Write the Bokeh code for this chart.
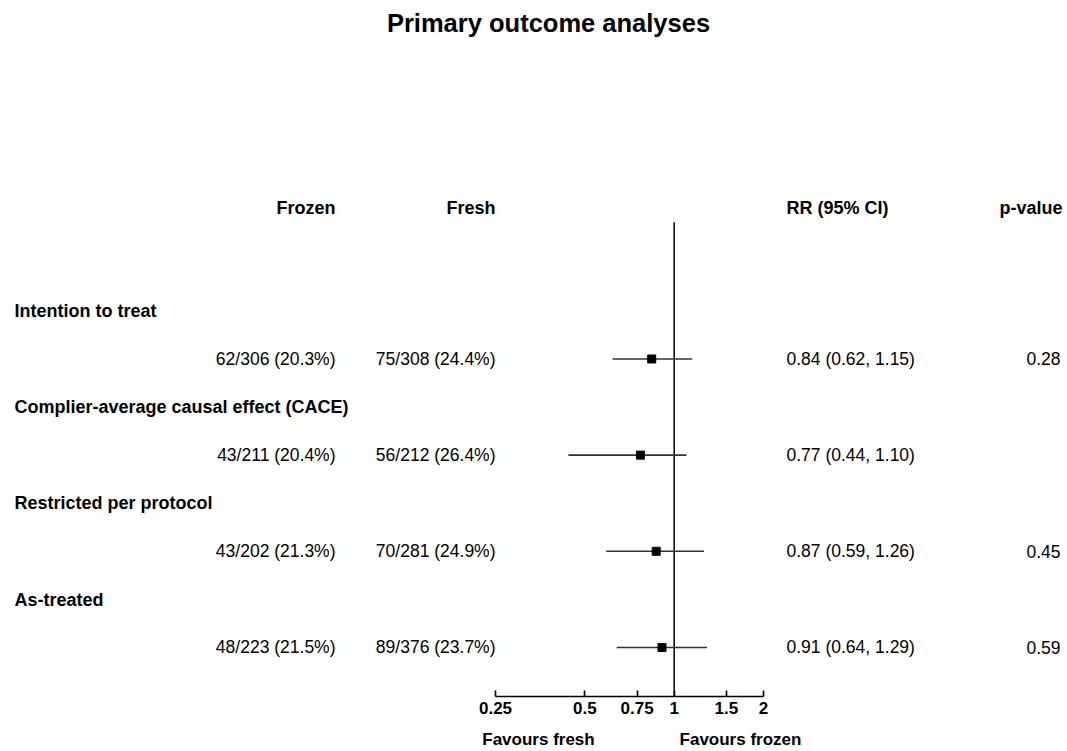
import math
from bokeh.plotting import figure
from bokeh.models import (Range1d, FixedTicker, NumeralTickFormatter, LinearAxis,
                          ColumnDataSource, LinearScale)
from bokeh.core.properties import value
from bokeh.embed import file_html
from bokeh.resources import INLINE

# ---------------- data ----------------
title = "Primary outcome analyses"
analyses = ["Intention to treat", "Complier-average causal effect (CACE)",
            "Restricted per protocol", "As-treated"]
frozen = ["62/306 (20.3%)", "43/211 (20.4%)", "43/202 (21.3%)", "48/223 (21.5%)"]
fresh = ["75/308 (24.4%)", "56/212 (26.4%)", "70/281 (24.9%)", "89/376 (23.7%)"]
rr = [0.84, 0.77, 0.87, 0.91]
ci_low = [0.62, 0.44, 0.59, 0.64]
ci_high = [1.15, 1.10, 1.26, 1.29]
pvals = ["0.28", "", "0.45", "0.59"]
headers = ["Frozen", "Fresh", "RR (95% CI)", "p-value"]
ticks = [0.25, 0.5, 0.75, 1, 1.5, 2]
favours = ["Favours fresh", "Favours frozen"]

# ---------------- layout ----------------
W, H = 1067, 751
FRAME_BOTTOM = 697
AX_L, AX_R = 495, 763          # pixel positions of 0.25 and 2
k = (AX_R - AX_L) / math.log(ticks[-1] / ticks[0])
x_start = ticks[0] * math.exp(-AX_L / k)
x_end = ticks[-1] * math.exp((W - AX_R) / k)

FONT = value("Liberation Sans")
FS_B = "18px"
FS_R = "17.5px"

p = figure(width=W, height=H, output_backend="svg", toolbar_location=None,
           x_axis_type="log", x_range=Range1d(x_start, x_end),
           y_range=Range1d(FRAME_BOTTOM, 0), y_axis_location=None,
           min_border_left=0, min_border_right=0, min_border_top=0,
           min_border_bottom=H - FRAME_BOTTOM)
p.extra_x_ranges = {"px": Range1d(0, W)}
p.extra_x_scales = {"px": LinearScale()}
p.outline_line_color = None
p.grid.visible = False
p.background_fill_color = "white"
p.border_fill_color = "white"

# row positions
label_y = [311 + 96.3 * i for i in range(len(analyses))]
data_y = [y + 48 for y in label_y]

# title
p.text(x=[548], y=[23], text=[title], x_range_name="px", text_align="center",
       text_baseline="middle", text_font=FONT, text_font_size="25.5px",
       text_font_style="bold", text_color="black")

# headers
hx = [335, 495, 786, 1062]
ha = ["right", "right", "left", "right"]
p.text(x="x", y="y", text="t", text_align="a",
       source=ColumnDataSource(dict(x=hx, y=[208] * 4, t=headers, a=ha)),
       x_range_name="px", text_baseline="middle", text_font=FONT,
       text_font_size=FS_B, text_font_style="bold", text_color="black")

# analysis labels
p.text(x=[14] * len(analyses), y=label_y, text=analyses, x_range_name="px",
       text_align="left", text_baseline="middle", text_font=FONT,
       text_font_size=FS_B, text_font_style="bold", text_color="black")

# data columns
rr_txt = [f"{r:.2f} ({l:.2f}, {h:.2f})" for r, l, h in zip(rr, ci_low, ci_high)]
for col, xx, al in [(frozen, 335, "right"), (fresh, 495, "right"),
                    (rr_txt, 786, "left"), (pvals, 1060, "right")]:
    p.text(x=[xx] * len(col), y=data_y, text=col, x_range_name="px",
           text_align=al, text_baseline="middle", text_font=FONT,
           text_font_size=FS_R, text_color="black")

# reference line at 1
p.segment(x0=[1], y0=[222], x1=[1], y1=[FRAME_BOTTOM], line_color="black",
          line_width=1.5)

# CIs and point estimates
p.segment(x0=ci_low, y0=data_y, x1=ci_high, y1=data_y, line_color="#333333",
          line_width=1.6)
p.scatter(x=rr, y=data_y, marker="square", size=8, fill_color="black",
          line_color="black")

# axis
ax = p.xaxis[0]
ax.bounds = (ticks[0], ticks[-1])
ax.ticker = FixedTicker(ticks=ticks, minor_ticks=[])
ax.formatter = NumeralTickFormatter(format="0.[00]")
ax.major_tick_in = 6
ax.major_tick_out = 0
ax.minor_tick_line_color = None
ax.axis_line_width = 1.6
ax.major_tick_line_width = 1.6
ax.axis_line_color = "black"
ax.major_tick_line_color = "black"
ax.major_label_text_font = "Liberation Sans"
ax.major_label_text_font_size = "17px"
ax.major_label_text_font_style = "bold"
ax.major_label_text_color = "black"
ax.major_label_standoff = 5

# favours labels as a second, line-less axis
fav_pos = [538, 740]
fav_ax = LinearAxis(x_range_name="px",
                    ticker=FixedTicker(ticks=fav_pos, minor_ticks=[]),
                    major_label_overrides={xx: t for xx, t in zip(fav_pos, favours)},
                    axis_line_color=None, major_tick_line_color=None,
                    minor_tick_line_color=None, major_tick_in=0, major_tick_out=0,
                    major_label_standoff=13,
                    major_label_text_font="Liberation Sans",
                    major_label_text_font_size="17px",
                    major_label_text_font_style="bold",
                    major_label_text_color="black")
p.add_layout(fav_ax, "below")

open("out.html", "w").write(file_html(p, INLINE))
